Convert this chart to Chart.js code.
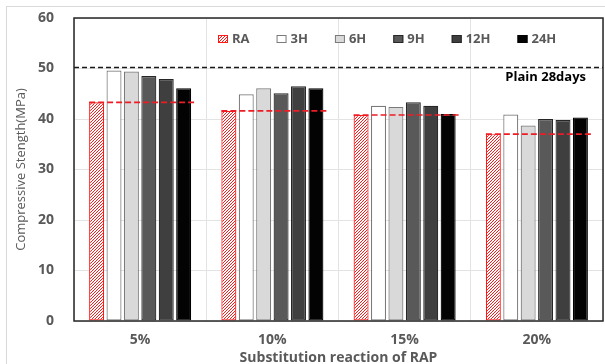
<!DOCTYPE html>
<html>
<head>
<meta charset="utf-8">
<script src="https://cdn.jsdelivr.net/npm/chart.js@4.4.1/dist/chart.umd.min.js"></script>
<style>
  html, body { margin: 0; padding: 0; background: #fff; }
  #wrap { width: 605px; height: 364px; position: relative; }
</style>
</head>
<body>
<div id="wrap"><canvas id="chart" width="605" height="364"></canvas></div>
<script>
const categories = ["5%", "10%", "15%", "20%"];
const seriesNames = ["RA", "3H", "6H", "9H", "12H", "24H"];
const ra = [43.3, 41.6, 40.8, 37.0];
const h3 = [49.6, 44.9, 42.6, 40.9];
const h6 = [49.4, 46.1, 42.4, 38.7];
const h9 = [48.5, 45.1, 43.3, 40.0];
const h12 = [47.9, 46.5, 42.6, 39.8];
const h24 = [46.1, 46.1, 41.0, 40.3];
const plain28 = 50.2;
const plainLabel = "Plain 28days";

const GREY_TEXT = "#595959";
const FONT = "'Open Sans', 'DejaVu Sans', sans-serif";

// red diagonal hatching for the RA bars
function hatch() {
  const c = document.createElement("canvas");
  c.width = 3;
  c.height = 3;
  const g = c.getContext("2d");
  g.fillStyle = "#fff";
  g.fillRect(0, 0, 3, 3);
  g.strokeStyle = "#ff1a1a";
  g.lineWidth = 1;
  g.beginPath();
  g.moveTo(0, 3); g.lineTo(3, 0);
  g.moveTo(-1, 1); g.lineTo(1, -1);
  g.moveTo(2, 4); g.lineTo(4, 2);
  g.stroke();
  return g.createPattern(c, "repeat");
}
const raFill = hatch();

const styles = [
  { fill: raFill, border: "#ff1a1a" },
  { fill: "#ffffff", border: "#7a7a7a" },
  { fill: "#d9d9d9", border: "#7a7a7a" },
  { fill: "#595959", border: "#262626" },
  { fill: "#3f3f3f", border: "#262626" },
  { fill: "#030303", border: "#000000" }
];
const values = [ra, h3, h6, h9, h12, h24];

const datasets = seriesNames.map((name, i) => ({
  label: name,
  data: values[i],
  backgroundColor: styles[i].fill,
  borderColor: styles[i].border,
  borderWidth: 1.2,
  borderSkipped: false,
  categoryPercentage: 0.79,
  barPercentage: 0.86
}));

const overlay = {
  id: "overlay",
  beforeDraw(chart) {
    const ctx = chart.ctx;
    ctx.save();
    ctx.strokeStyle = "#d9d9d9";
    ctx.lineWidth = 1;
    ctx.strokeRect(6.5, 6.5, 800, 600);
    ctx.restore();
  },
  afterDatasetsDraw(chart) {
    const ctx = chart.ctx;
    const area = chart.chartArea;
    const y = chart.scales.y;
    const first = chart.getDatasetMeta(0).data;
    const last = chart.getDatasetMeta(datasets.length - 1).data;
    ctx.save();

    // RA reference level across each group
    ctx.strokeStyle = "#ee1c25";
    ctx.lineWidth = 1.6;
    ctx.setLineDash([6, 3]);
    ra.forEach((v, i) => {
      const py = y.getPixelForValue(v);
      ctx.beginPath();
      ctx.moveTo(first[i].x - first[i].width / 2, py);
      ctx.lineTo(last[i].x + last[i].width / 2 + 3, py);
      ctx.stroke();
    });

    // plain concrete at 28 days
    const py = y.getPixelForValue(plain28);
    ctx.strokeStyle = "#1a1a1a";
    ctx.lineWidth = 1.6;
    ctx.setLineDash([5, 3]);
    ctx.beginPath();
    ctx.moveTo(area.left, py);
    ctx.lineTo(area.right, py);
    ctx.stroke();
    ctx.setLineDash([]);

    ctx.fillStyle = "#000";
    ctx.font = "bold 13px " + FONT;
    ctx.textAlign = "right";
    ctx.textBaseline = "middle";
    ctx.fillText(plainLabel, area.right - 17, py + 10);

    // plot frame
    ctx.strokeStyle = "#262626";
    ctx.lineWidth = 1.5;
    ctx.strokeRect(area.left, area.top, area.right - area.left, area.bottom - area.top);

    // legend
    ctx.font = "bold 13px " + FONT;
    ctx.textAlign = "left";
    let lx = 218;
    const ly = 39;
    datasets.forEach((ds) => {
      ctx.fillStyle = ds.backgroundColor;
      ctx.fillRect(lx, ly - 4, 10, 8);
      ctx.strokeStyle = ds.borderColor;
      ctx.lineWidth = 1;
      ctx.strokeRect(lx + 0.5, ly - 3.5, 9, 7);
      ctx.fillStyle = GREY_TEXT;
      ctx.fillText(ds.label, lx + 14, ly);
      lx += 14 + ctx.measureText(ds.label).width + 27;
    });
    ctx.restore();
  }
};

new Chart(document.getElementById("chart"), {
  type: "bar",
  data: { labels: categories, datasets },
  plugins: [overlay],
  options: {
    responsive: false,
    animation: false,
    layout: { padding: { top: 18, right: 2, left: 0, bottom: 0 } },
    plugins: { legend: { display: false }, tooltip: { enabled: false } },
    scales: {
      x: {
        grid: { offset: true, color: "#e3e3e3", drawTicks: false },
        border: { display: false },
        ticks: { color: GREY_TEXT, padding: 11, font: { family: FONT, size: 14, weight: "bold" } },
        title: {
          display: true,
          text: "Substitution reaction of RAP",
          color: GREY_TEXT,
          padding: { top: 0, bottom: -2 },
          font: { family: FONT, size: 14, weight: "bold" }
        },
        afterFit(scale) { scale.height = 43; }
      },
      y: {
        min: 0,
        max: 60,
        ticks: { stepSize: 10, color: GREY_TEXT, padding: 0, font: { family: FONT, size: 14, weight: "bold" } },
        // tick marks kept invisible; their length sets the label gap
        grid: { color: "#e3e3e3", tickLength: 20, tickColor: "rgba(0,0,0,0)" },
        border: { display: false },
        title: {
          display: true,
          text: "Compressive Stength(MPa)",
          color: GREY_TEXT,
          padding: { top: 13, bottom: 0 },
          font: { family: FONT, size: 13 }
        },
        afterFit(scale) { scale.width = 74; }
      }
    }
  }
});
</script>
</body>
</html>
